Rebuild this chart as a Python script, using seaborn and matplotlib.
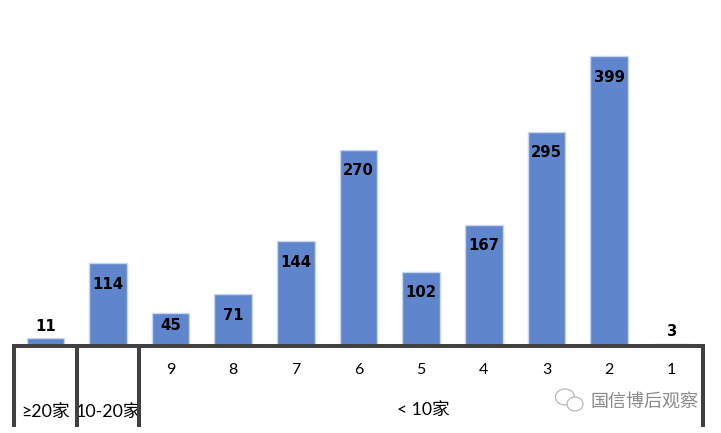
import matplotlib
matplotlib.use("Agg")
import matplotlib.pyplot as plt
from matplotlib.patches import Ellipse
from matplotlib.transforms import blended_transform_factory
import pandas as pd
import seaborn as sns

# data
categories = ["≥20家", "10-20家", "9", "8", "7", "6", "5", "4", "3", "2", "1"]
values = [11, 114, 45, 71, 144, 270, 102, 167, 295, 399, 3]
group_label = "< 10家"
watermark = "国信博后观察"

W, H = 721, 433
BASE_Y = 346

sns.set_theme(style="white")
plt.rcParams["font.family"] = ["Lato", "Noto Sans CJK SC", "DejaVu Sans"]

fig = plt.figure(figsize=(W / 100, H / 100), dpi=100)
ax = fig.add_axes([14 / W, (H - BASE_Y) / H, 689 / W, BASE_Y / H])

df = pd.DataFrame({"cat": categories, "val": values})
sns.barplot(data=df, x="cat", y="val", order=categories, color="#5f86cd", saturation=1,
            width=0.6, edgecolor="#c8d6f0", linewidth=1.0, ax=ax)

ax.set_xlim(-0.5, 10.5)
ax.set_ylim(0, BASE_Y / 0.726)
ax.set_xlabel("")
ax.set_ylabel("")
ax.set_yticks([])
sns.despine(ax=ax, left=True, right=True, top=True)
ax.spines["bottom"].set_linewidth(2.9)
ax.spines["bottom"].set_color("#404040")

# tick labels: the two group labels sit lower than the 9..1 row
ax.tick_params(axis="x", length=0, pad=12, labelsize=11.5, colors="black")
for i, tick in enumerate(ax.xaxis.get_major_ticks()):
    if i < 2:
        tick.set_pad(42)
        tick.label1.set_fontsize(12.8)

# value labels, inside the bar except for the short ones
for i, v in enumerate(values):
    if v < 20:
        off = 12
    elif v == 45:
        off = -12
    else:
        off = -21
    ax.annotate(str(v), (i, v), xytext=(0, off), textcoords="offset pixels",
                ha="center", va="center", fontsize=10.7, fontweight="bold",
                family="DejaVu Sans", color="black")

# group dividers under the axis
trans = blended_transform_factory(ax.transData, fig.transFigure)
for x in [-0.5, 0.5, 1.5, 10.5]:
    ax.plot([x, x], [(H - 344) / H, (H - 427) / H], transform=trans, color="#404040",
            lw=2.9, clip_on=False, solid_capstyle="butt")
ax.text(6.03, (H - 410) / H, group_label, transform=trans, ha="center", va="center",
        fontsize=12.7, color="black")

# watermark
fig.text(644 / W, (H - 401) / H, watermark, ha="center", va="center", fontsize=13,
         color="#8a8a8a")
for cx, cy, w, h in [(565, 397, 19, 16), (575, 404, 16, 14)]:
    fig.add_artist(Ellipse((cx / W, (H - cy) / H), w / W, h / H, transform=fig.transFigure,
                           facecolor="white", edgecolor="#b0b0b0", lw=0.8))

fig.savefig("out.png", dpi=100)
